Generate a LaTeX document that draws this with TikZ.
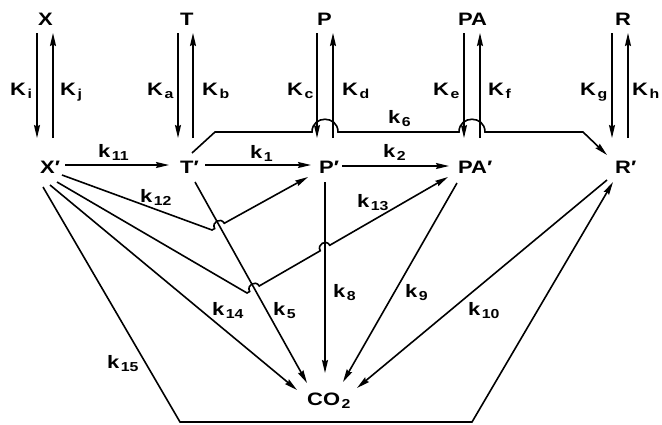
\documentclass[tikz,border=0pt]{standalone}
\usepackage{fontspec}
\setmainfont{Liberation Sans}[FakeStretch=1.22]
\usetikzlibrary{arrows.meta,calc}
\newcommand\lsub[1]{\hspace{1.5pt}\raisebox{-3.5pt}{\fontsize{13}{13}\selectfont #1}}
\begin{document}
\begin{tikzpicture}[x=1pt,y=-1pt,
  lbl/.style={anchor=base west,inner sep=0pt,font=\fontsize{18}{18}\selectfont\bfseries},
  ln/.style={line width=1.6pt},
  arr/.style={ln,-{Stealth[length=13pt,width=6pt,inset=1.5pt]}},
]
\useasboundingbox (0,0) rectangle (662,424);
% top species
\node[lbl] (X) at (38,25) {X};
\node[lbl] (T) at (180,25) {T};
\node[lbl] (P) at (317,25) {P};
\node[lbl] (PA) at (458,25) {PA};
\node[lbl] (R) at (615,25) {R};
% bound species
\node[lbl] (Xp) at (40,173) {X′};
\node[lbl] (Tp) at (180,173) {T′};
\node[lbl] (Pp) at (319,173) {P′};
\node[lbl] (PAp) at (458,173) {PA′};
\node[lbl] (Rp) at (615,173) {R′};
\node[lbl] (CO2) at (307,405) {CO\lsub{2}};
% K labels
\node[lbl] (Ki) at (10,95) {K\lsub{i}};
\node[lbl] (Kj) at (60,95) {K\lsub{j}};
\node[lbl] (Ka) at (147,95) {K\lsub{a}};
\node[lbl] (Kb) at (202,95) {K\lsub{b}};
\node[lbl] (Kc) at (287,95) {K\lsub{c}};
\node[lbl] (Kd) at (342,95) {K\lsub{d}};
\node[lbl] (Ke) at (433,95) {K\lsub{e}};
\node[lbl] (Kf) at (488,95) {K\lsub{f}};
\node[lbl] (Kg) at (580,95) {K\lsub{g}};
\node[lbl] (Kh) at (632,95) {K\lsub{h}};
% k labels
\node[lbl] (l11) at (98,157) {k\lsub{11}};
\node[lbl] (l1) at (250,158) {k\lsub{1}};
\node[lbl] (l2) at (383,157) {k\lsub{2}};
\node[lbl] (l6) at (388,123) {k\lsub{6}};
\node[lbl] (l12) at (140,202) {k\lsub{12}};
\node[lbl] (l13) at (357,207) {k\lsub{13}};
\node[lbl] (l14) at (212,315) {k\lsub{14}};
\node[lbl] (l5) at (273,315) {k\lsub{5}};
\node[lbl] (l15) at (107,368) {k\lsub{15}};
\node[lbl] (l8) at (333,297) {k\lsub{8}};
\node[lbl] (l9) at (405,297) {k\lsub{9}};
\node[lbl] (l10) at (468,315) {k\lsub{10}};
% vertical exchange arrows
\foreach \n/\xa/\xb in {X/37/53, T/178/193, P/317/333, PA/464/480, R/612/628} {
  \coordinate (\n dt) at (\xa,33); \coordinate (\n db) at (\xa,138);
  \coordinate (\n ut) at (\xb,33); \coordinate (\n ub) at (\xb,138);
  \draw[arr] (\n dt) -- (\n db);
  \draw[arr] (\n ub) -- (\n ut);
}
% horizontal arrows
\coordinate (a11s) at (65,165); \coordinate (a11e) at (169,165);
\coordinate (a1s) at (205,165); \coordinate (a1e) at (311,165);
\coordinate (a2s) at (342,166); \coordinate (a2e) at (449,166);
\draw[arr] (a11s) -- (a11e);
\draw[arr] (a1s) -- (a1e);
\draw[arr] (a2s) -- (a2e);
% k6 path
\coordinate (k6a) at (192,153); \coordinate (k6b) at (215,132);
\coordinate (j4a) at (312,132); \coordinate (j4b) at (338,132);
\coordinate (j5a) at (459,132); \coordinate (j5b) at (485,132);
\coordinate (k6c) at (583,132); \coordinate (k6d) at (607,155);
\draw[arr] (k6a) -- (k6b) -- (j4a) .. controls +(0,-17) and +(0,-17) .. (j4b)
  -- (j5a) .. controls +(0,-17) and +(0,-17) .. (j5b) -- (k6c) -- (k6d);
% straight lines to CO2
\coordinate (k5s) at (195,182); \coordinate (k5e) at (307,383);
\coordinate (k8s) at (325,182); \coordinate (k8e) at (325,373);
\coordinate (k9s) at (457,183); \coordinate (k9e) at (343,382);
\coordinate (k10s) at (607,180); \coordinate (k10e) at (357,388);
\coordinate (k14s) at (50,185); \coordinate (k14e) at (297,390);
\draw[arr] (k5s) -- (k5e);
\draw[arr] (k8s) -- (k8e);
\draw[arr] (k9s) -- (k9e);
\draw[arr] (k10s) -- (k10e);
\draw[arr] (k14s) -- (k14e);
% k15
\coordinate (k15s) at (43,187); \coordinate (k15b) at (180,422);
\coordinate (k15c) at (472,422); \coordinate (k15e) at (613,182);
\draw[arr] (k15s) -- (k15b) -- (k15c) -- (k15e);
% k12, k13 with jumps
\coordinate (k12s) at (62,175); \coordinate (k12b) at (212,230); \coordinate (k12e) at (308,177);
\coordinate (k13s) at (57,182); \coordinate (k13b) at (247,293); \coordinate (k13e) at (448,177);
\coordinate (c1) at (intersection of k12b--k12e and k5s--k5e);
\coordinate (c2) at (intersection of k13b--k13e and k5s--k5e);
\coordinate (c3) at (intersection of k13b--k13e and k8s--k8e);
\foreach \c/\s/\e in {c1/k12b/k12e, c2/k13b/k13e, c3/k13b/k13e} {
  \coordinate (\c p1) at ($(\c)!5.5pt!(\s)$);
  \coordinate (\c p2) at ($(\c)!5.5pt!(\e)$);
  \coordinate (\c q1) at ($(\c p1)!7.3pt!90:(\c)$);
  \coordinate (\c q2) at ($(\c p2)!7.3pt!-90:(\c)$);
}
\draw[arr] (k12s) -- (k12b) -- (c1p1) .. controls (c1q1) and (c1q2) .. (c1p2) -- (k12e);
\draw[arr] (k13s) -- (k13b) -- (c2p1) .. controls (c2q1) and (c2q2) .. (c2p2)
  -- (c3p1) .. controls (c3q1) and (c3q2) .. (c3p2) -- (k13e);
\end{tikzpicture}
\end{document}
